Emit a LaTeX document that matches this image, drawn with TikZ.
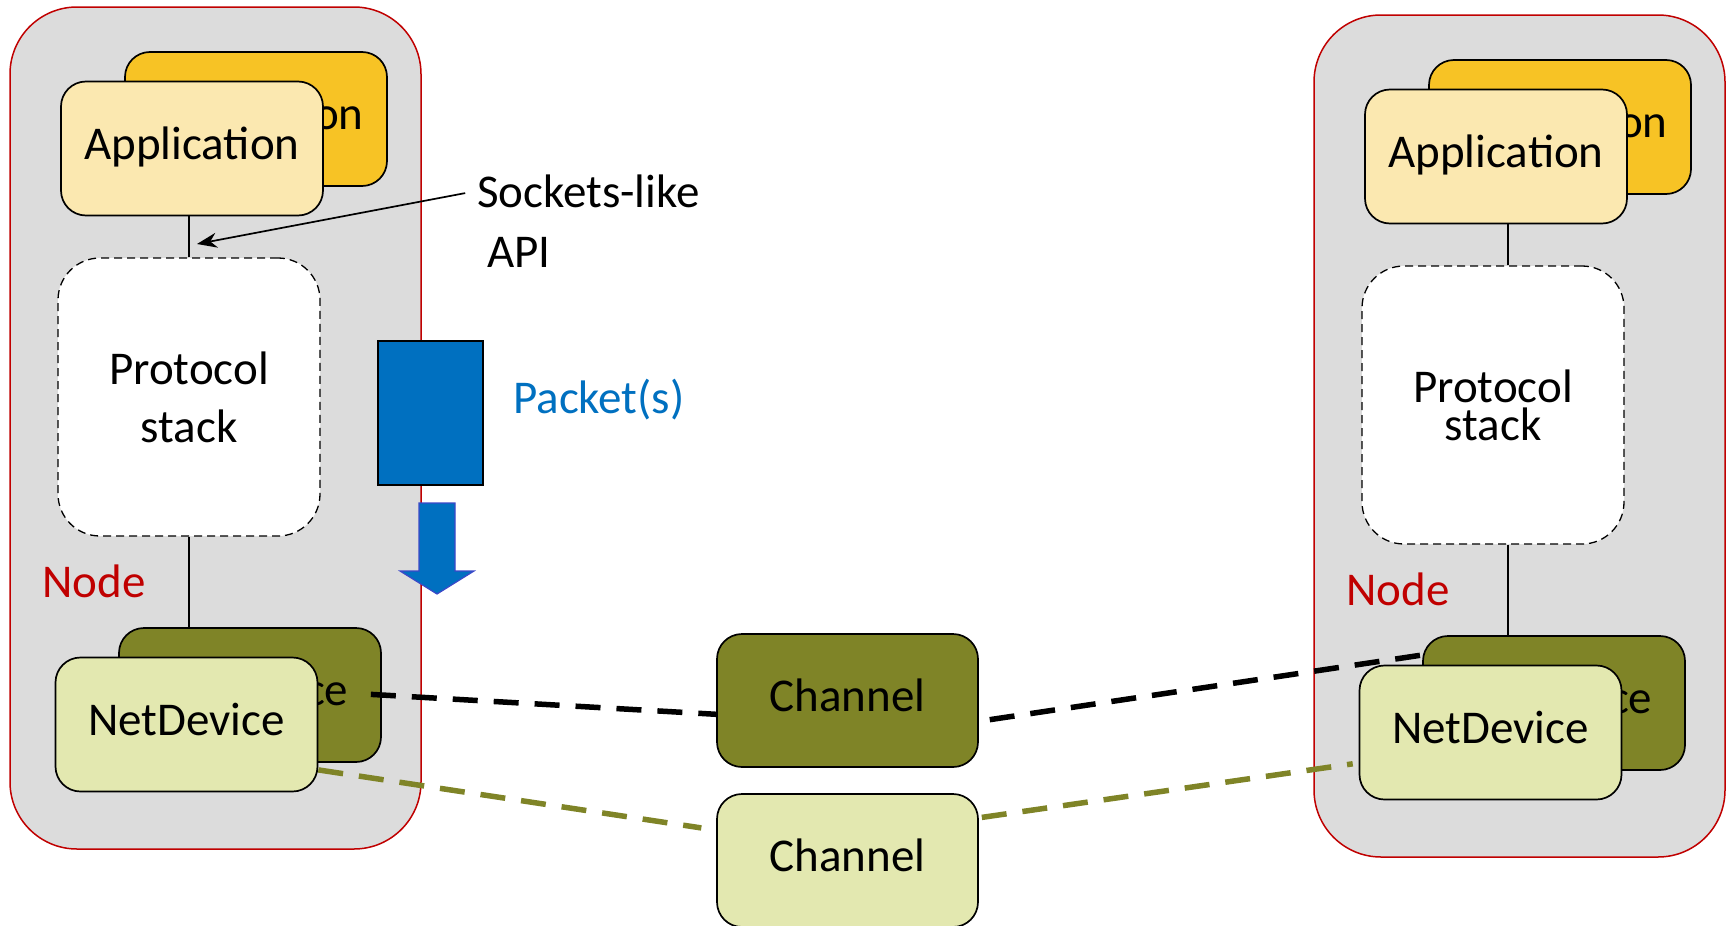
\documentclass[tikz,border=0pt]{standalone}
\usepackage{fontspec}
\setmainfont{Carlito}
\usetikzlibrary{positioning}
\usetikzlibrary{arrows.meta}

\definecolor{nodegray}{HTML}{DCDCDC}
\definecolor{nodered}{HTML}{C00000}
\definecolor{appdark}{HTML}{F7C325}
\definecolor{applight}{HTML}{FBE8B0}
\definecolor{devdark}{HTML}{7F8427}
\definecolor{devlight}{HTML}{E3E8B0}
\definecolor{pktblue}{HTML}{0070C0}
\definecolor{pktrim}{HTML}{3B48C8}

\newcommand\boxfont{\fontsize{47}{57}\selectfont}

\begin{document}
\begin{tikzpicture}[x=1pt,y=-1pt,
	box/.style={draw,line width=1.7pt,rounded corners=25pt,inner sep=0pt,
		minimum width=262pt,minimum height=134pt,font=\boxfont,text height=31pt,text depth=10pt},
	stackbox/.style={draw,line width=1.3pt,dash pattern=on 8pt off 5pt,fill=white,
		rounded corners=42pt,inner sep=0pt,minimum width=262pt,minimum height=278pt,align=center},
	nodebox/.style={draw=nodered,line width=1.5pt,fill=nodegray,rounded corners=67pt},
	label/.style={font=\boxfont,inner sep=0pt,anchor=base west},
	link/.style={line width=1.1pt},
	wire/.style={line width=5.5pt,dash pattern=on 25pt off 16pt}]
	\useasboundingbox (0,0) rectangle (1729,926);

	% left node
	\draw[nodebox] (10,7) rectangle (421,849);
	\node[box,fill=appdark] (appBackL) at (256,119) {Application};
	\node[box,fill=applight] (appL) at (192,148.5) {Application};
	\node[stackbox,font={\fontsize{47}{58}\selectfont}] (stackL) at (189,397) {Protocol\\stack};
	\node[box,fill=devdark] (ndBackL) at (250,695) {NetDevice};
	\node[box,fill=devlight] (ndL) at (186.5,724.5) {NetDevice};
	\node[label,text=nodered] (nodeL) at (42,597) {Node};
	\draw[link] (stackL.north) -- (stackL.north |- appL.south);
	\draw[link] (stackL.south) -- (stackL.south |- ndBackL.north);

	% right node
	\begin{scope}[shift={(1304,8)}]
		\draw[nodebox] (10,7) rectangle (421,849);
		\node[box,fill=appdark] (appBackR) at (256,119) {Application};
		\node[box,fill=applight] (appR) at (192,148.5) {Application};
		\node[stackbox,font={\fontsize{47}{38}\selectfont}] (stackR) at (189,397) {Protocol\\stack};
		\node[box,fill=devdark] (ndBackR) at (250,695) {NetDevice};
		\node[box,fill=devlight] (ndR) at (186.5,724.5) {NetDevice};
		\node[label,text=nodered] (nodeR) at (42,597) {Node};
		\draw[link] ([xshift=15pt]stackR.north) -- ([xshift=15pt]stackR.north |- appR.south);
		\draw[link] ([xshift=15pt]stackR.south) -- ([xshift=15pt]stackR.south |- ndBackR.north);
	\end{scope}

	% channels
	\node[box,fill=devdark,minimum width=261pt,minimum height=133pt] (chanA) at (847.5,700.5) {Channel};
	\node[box,fill=devlight,minimum width=261pt,minimum height=133pt] (chanB) at (847.5,860.5) {Channel};

	% API
	\node[label] (sock) at (477,207) {Sockets-like};
	\node[label] (api) at (487,267) {API};
	\coordinate (apiTip) at (197,244);
	\draw[line width=1.7pt,-{Stealth[length=20pt,width=15pt]},shorten <=12pt] (sock.west) -- (apiTip);

	% packet
	\node[draw,line width=1.2pt,fill=pktblue,minimum width=105pt,minimum height=144pt] (pkt) at (430.5,413) {};
	\node[label,text=pktblue] (pktText) at (513,413) {Packet(s)};
	\filldraw[fill=pktblue,draw=pktrim,line width=1.2pt]
		(419,503) -- (455,503) -- (455,571) -- (474,571) -- (437,594) -- (400,571) -- (419,571) -- cycle;

	% links to the channels
	\draw[wire,shorten <=-11pt] (ndBackL.east) -- (chanA.186);
	\draw[wire,shorten <=11pt] (chanA.351) -- (ndBackR.160);
	\draw[wire,devdark,shorten >=15pt] (ndL.341) -- (chanB.167);
	\draw[wire,devdark,shorten <=3pt,shorten >=6pt] (chanB.18) -- (ndR.193);
\end{tikzpicture}
\end{document}
